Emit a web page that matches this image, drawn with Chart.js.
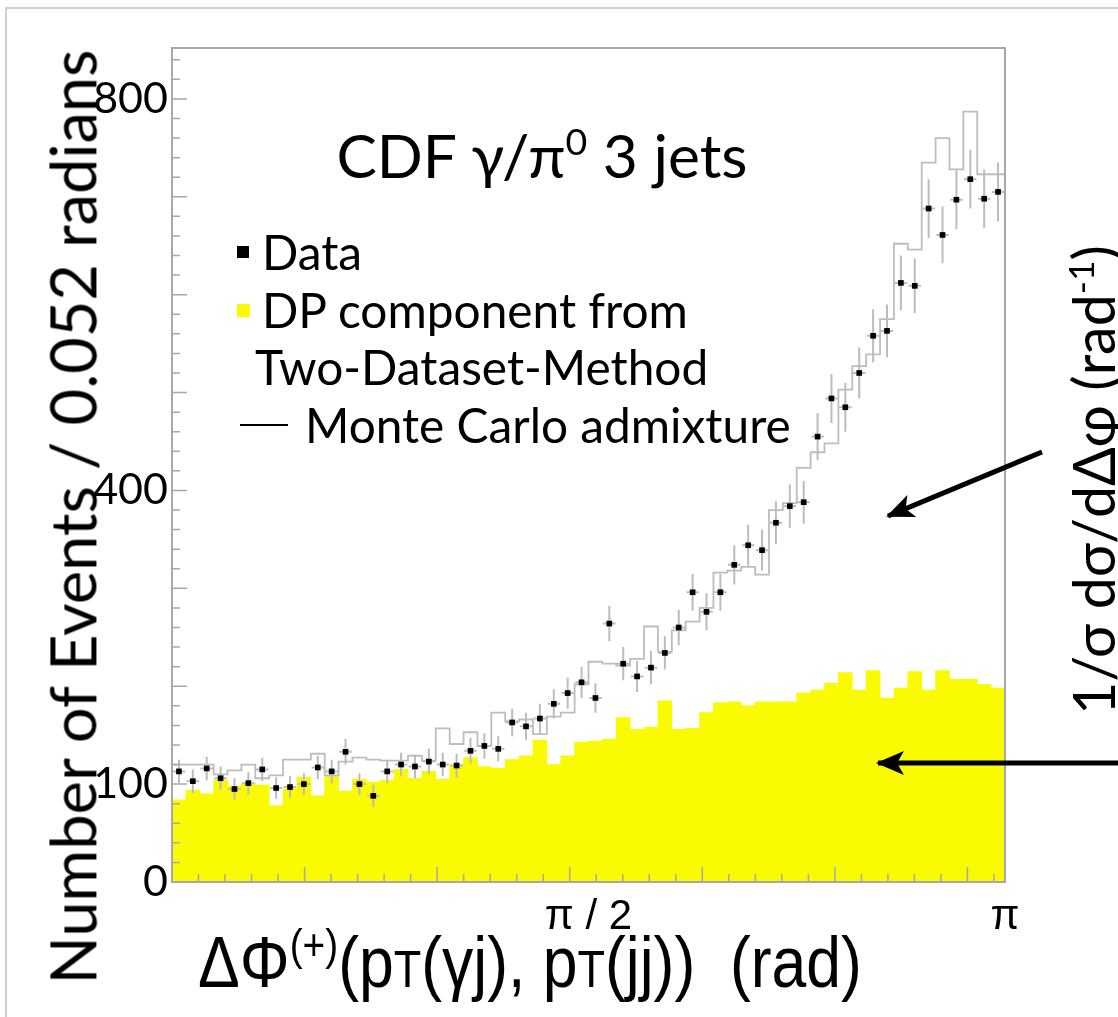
<!DOCTYPE html>
<html>
<head>
<meta charset="utf-8">
<script src="https://cdn.jsdelivr.net/npm/chart.js@4.4.0/dist/chart.umd.min.js"></script>
<style>
html, body { margin: 0; padding: 0; background: #fff; }
#wrap { position: relative; width: 1118px; height: 1017px; overflow: hidden; }
#frame { position: absolute; left: 5px; top: 7px; width: 1200px; height: 1100px;
         border-left: 2px solid #cfcfcf; border-top: 2px solid #cfcfcf; }
#chart { position: absolute; left: 0; top: 0; }
.txt { position: absolute; white-space: nowrap; line-height: 1; color: #000;
       font-family: Lato, "Open Sans", sans-serif; }
.txt sup { font-size: 0.62em; vertical-align: 0.6em; line-height: 0; }
.mid { transform: translate(-50%, -50%); }
.left { transform: translateY(-50%); }
.rot { transform: translate(-50%, -50%) rotate(-90deg); }
.narrow { transform: translate(-50%, -50%) scaleX(0.86); }
.sc { font-size: 0.72em; }
.mark { position: absolute; }
svg { position: absolute; left: 0; top: 0; }
</style>
</head>
<body>
<div id="wrap">
  <div id="frame"></div>
  <canvas id="chart" width="1118" height="1017"></canvas>

  <div class="txt mid" id="cdf" style="left:542px; top:155px;">CDF γ/π<sup>0</sup> 3 jets</div>

  <div class="mark" style="left:237px; top:246px; width:12px; height:12px; background:#000;"></div>
  <div class="txt left leg" style="left:262px; top:252px;">Data</div>
  <div class="mark" style="left:237px; top:304px; width:13px; height:13px; background:#fafa00;"></div>
  <div class="txt left leg" id="legDP" style="left:262px; top:310px;">DP component from</div>
  <div class="txt left leg" style="left:255px; top:367px;">Two-Dataset-Method</div>
  <div class="mark" style="left:240px; top:424px; width:48px; height:2px; background:#000;"></div>
  <div class="txt left leg" style="left:305px; top:425px;">Monte Carlo admixture</div>

  <div class="txt rot" id="ytitle" style="left:72px; top:517px;">Number of Events / 0.052 radians</div>
  <div class="txt narrow" id="xtitle" style="left:530px; top:962px; font-family:'Liberation Sans',sans-serif;">ΔΦ<sup>(+)</sup>(p<span class="sc">T</span>(γj), p<span class="sc">T</span>(jj))&nbsp; (rad)</div>
  <div class="txt rot" id="rtitle" style="left:1093px; top:480px;">1/σ dσ/dΔφ (rad<sup>-1</sup>)</div>

  <svg width="1118" height="1017">
    <defs>
      <marker id="head" markerUnits="userSpaceOnUse" markerWidth="30" markerHeight="24"
              refX="26" refY="12" orient="auto">
        <path d="M0,0 L28,12 L0,24 L7,12 z" fill="#000"/>
      </marker>
    </defs>
    <line x1="1042" y1="452" x2="888" y2="516" stroke="#000" stroke-width="5" marker-end="url(#head)"/>
    <line x1="1118" y1="763" x2="878" y2="763" stroke="#000" stroke-width="5" marker-end="url(#head)"/>
  </svg>
</div>

<script>
// 60 bins of 0.052 rad from 0 to pi
const dataPoints = [113, 103, 116, 106, 95, 101, 115, 96, 97, 100,
                    117, 113, 133, 100, 88, 113, 120, 118, 123, 120,
                    119, 134, 139, 136, 163, 159, 167, 182, 193, 204,
                    188, 264, 223, 210, 219, 234, 260, 296, 276, 296,
                    324, 344, 339, 367, 384, 388, 455, 494, 485, 520,
                    558, 563, 612, 609, 688, 661, 697, 718, 698, 705];
const dataErrors = [12, 12, 12, 12, 11, 11, 12, 11, 11, 11,
                    12, 12, 13, 11, 11, 12, 12, 12, 13, 12,
                    12, 13, 13, 13, 14, 14, 15, 15, 16, 16,
                    15, 18, 17, 16, 17, 17, 18, 19, 19, 19,
                    20, 21, 21, 22, 22, 22, 24, 25, 25, 26,
                    27, 27, 28, 28, 30, 29, 30, 30, 30, 30];
const dpComponent = [84, 94, 90, 104, 98, 101, 99, 78, 95, 107,
                     88, 109, 93, 105, 102, 104, 115, 106, 113, 105,
                     120, 127, 118, 116, 125, 129, 145, 120, 129, 143,
                     144, 146, 168, 156, 158, 185, 156, 157, 173, 183,
                     184, 180, 184, 184, 184, 193, 196, 203, 214, 196,
                     216, 188, 198, 215, 196, 216, 207, 207, 202, 198];
const mcAdmixture = [100, 120, 120, 120, 110, 114, 120, 106, 109, 125,
                     125, 131, 109, 123, 127, 125, 124, 124, 129, 124,
                     157, 141, 153, 139, 173, 164, 166, 151, 169, 173,
                     202, 225, 223, 221, 228, 261, 235, 257, 266, 280,
                     316, 318, 322, 314, 380, 387, 423, 439, 448, 503,
                     527, 539, 575, 652, 646, 735, 760, 728, 787, 723];
const yTickValues = [0, 100, 400, 800];
const xTickValues = [Math.PI / 2, Math.PI];
const xTickLabels = ['π / 2', 'π'];

const binWidth = Math.PI / dataPoints.length;
const binCenters = dataPoints.map((_, i) => (i + 0.5) * binWidth);
const binEdges = mcAdmixture.map((_, i) => i * binWidth);

// fit overlay text to the measured width in the reference
function fitWidth(el, target) {
    el.style.fontSize = '100px';
    const w = el.offsetWidth;
    el.style.fontSize = (100 * target / w) + 'px';
}
fitWidth(document.getElementById('cdf'), 411);
fitWidth(document.getElementById('ytitle'), 935);
fitWidth(document.getElementById('xtitle'), 664 / 0.86);
fitWidth(document.getElementById('rtitle'), 470);
fitWidth(document.getElementById('legDP'), 426);
const legSize = document.getElementById('legDP').style.fontSize;
document.querySelectorAll('.leg').forEach(el => { el.style.fontSize = legSize; });

const errorBars = {
    id: 'errorBars',
    afterDatasetDraw(chart, args) {
        if (args.index !== 1) return;
        const { ctx, scales: { x, y } } = chart;
        ctx.save();
        ctx.strokeStyle = '#bcbcbc';
        ctx.lineWidth = 2;
        dataPoints.forEach((v, i) => {
            const px = x.getPixelForValue(binCenters[i]);
            const py = y.getPixelForValue(v);
            ctx.beginPath();
            ctx.moveTo(px, y.getPixelForValue(v - dataErrors[i]));
            ctx.lineTo(px, y.getPixelForValue(v + dataErrors[i]));
            ctx.moveTo(x.getPixelForValue(binCenters[i] - 0.45 * binWidth), py);
            ctx.lineTo(x.getPixelForValue(binCenters[i] + 0.45 * binWidth), py);
            ctx.stroke();
        });
        ctx.restore();
    }
};

const frameTicks = {
    id: 'frameTicks',
    afterDatasetsDraw(chart) {
        const { ctx, chartArea: a, scales: { x, y } } = chart;
        ctx.save();
        ctx.strokeStyle = '#a8a8a8';
        ctx.lineWidth = 1.5;
        ctx.beginPath();
        for (let v = 20; v < y.max; v += 20) {
            const py = y.getPixelForValue(v);
            const len = v % 100 === 0 ? 15 : 8;
            ctx.moveTo(a.left, py);
            ctx.lineTo(a.left + len, py);
        }
        for (let k = 1; k * 0.1 < Math.PI; k++) {
            const px = x.getPixelForValue(k * 0.1);
            const len = k % 5 === 0 ? 15 : 8;
            ctx.moveTo(px, a.bottom);
            ctx.lineTo(px, a.bottom - len);
        }
        ctx.stroke();
        ctx.lineWidth = 2;
        ctx.strokeRect(a.left, a.top, a.right - a.left, a.bottom - a.top);
        ctx.restore();
    }
};

new Chart(document.getElementById('chart'), {
    type: 'bar',
    data: {
        datasets: [{
            type: 'bar',
            label: 'DP component from Two-Dataset-Method',
            data: binCenters.map((x, i) => ({ x, y: dpComponent[i] })),
            backgroundColor: '#fafa00',
            borderWidth: 0,
            barPercentage: 1,
            categoryPercentage: 1,
            order: 3,
        }, {
            type: 'line',
            label: 'Monte Carlo admixture',
            data: binEdges.map((x, i) => ({ x, y: mcAdmixture[i] }))
                .concat([{ x: Math.PI, y: mcAdmixture[mcAdmixture.length - 1] }]),
            stepped: 'after',
            borderColor: '#bdbdbd',
            borderWidth: 1.8,
            pointRadius: 0,
            fill: false,
            order: 2,
        }, {
            type: 'scatter',
            label: 'Data',
            data: binCenters.map((x, i) => ({ x, y: dataPoints[i] })),
            pointStyle: 'rect',
            pointRadius: 4,
            backgroundColor: '#000',
            borderWidth: 0,
            order: 1,
        }],
    },
    options: {
        responsive: false,
        devicePixelRatio: 1,
        animation: false,
        layout: { padding: { left: 0, top: 48, right: 113, bottom: 0 } },
        plugins: { legend: { display: false }, tooltip: { enabled: false } },
        scales: {
            x: {
                type: 'linear',
                min: 0,
                max: Math.PI,
                offset: false,
                afterBuildTicks: s => { s.ticks = xTickValues.map(v => ({ value: v })); },
                afterFit: s => { s.height = 135; },
                ticks: {
                    callback: (v, i) => xTickLabels[i],
                    autoSkip: false,
                    maxRotation: 0,
                    padding: 10,
                    color: '#000',
                    font: { family: "'Liberation Sans', sans-serif", size: 42 },
                },
                grid: { display: false, drawTicks: false, tickLength: 0 },
                border: { display: false },
            },
            y: {
                min: 0,
                max: 852,
                afterBuildTicks: s => { s.ticks = yTickValues.map(v => ({ value: v })); },
                afterFit: s => { s.width = 172; },
                ticks: {
                    padding: 4,
                    color: '#000',
                    font: { family: 'Lato, sans-serif', size: 43 },
                },
                grid: { display: false, drawTicks: false, tickLength: 0 },
                border: { display: false },
            },
        },
    },
    plugins: [errorBars, frameTicks],
});
</script>
</body>
</html>
